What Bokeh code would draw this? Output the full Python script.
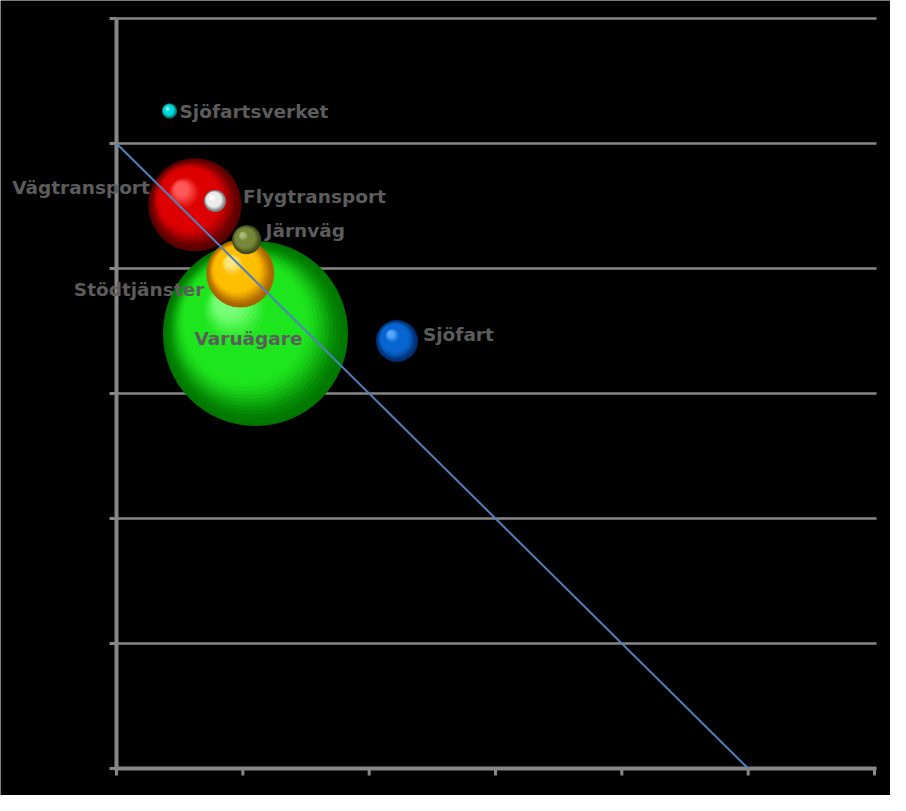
import numpy as np
from bokeh.plotting import figure
from bokeh.models import ColumnDataSource, Range1d, LabelSet
from bokeh.core.properties import value
from bokeh.embed import file_html
from bokeh.resources import INLINE

# ---------------- data ----------------
names = ["Varuägare", "Vägtransport", "Stödtjänster", "Järnväg",
         "Flygtransport", "Sjöfartsverket", "Sjöfart"]
x_vals = [1.10, 0.62, 0.98, 1.03, 0.78, 0.42, 2.22]
y_vals = [3.48, 4.51, 3.96, 4.23, 4.54, 5.26, 3.42]
bubble_sizes = [100, 25.3, 13.5, 2.46, 1.41, 0.66, 5.15]

line_x = [0, 5]
line_y = [5, 0]

axis_ticks = [0, 1, 2, 3, 4, 5, 6]

# ---------------- style ----------------
W, H = 890, 795
X0_PX, X6_PX = 116, 874      # screen x of x=0 and x=6
Y0_PX, Y6_PX = 768, 18       # screen y of y=0 and y=6
PX_X = (X6_PX - X0_PX) / 6.0
PX_Y = (Y0_PX - Y6_PX) / 6.0
X_START, X_END = -X0_PX / PX_X, (W - X0_PX) / PX_X
Y_START, Y_END = -(H - Y0_PX) / PX_Y, Y0_PX / PX_Y
AX_END = 6 + 2 / PX_X
TICK_X = 7 / PX_X
TICK_Y = 7 / PX_Y
MAX_R = 92.5  # screen radius of largest bubble

shades = {  # dark, base, light
    "Varuägare": ("#007800", "#1ee61e", "#78ff78"),
    "Vägtransport": ("#5a0000", "#dc0000", "#ff5a5a"),
    "Stödtjänster": ("#a86400", "#ffbe00", "#ffe680"),
    "Järnväg": ("#3e4a1c", "#77883a", "#aabb7c"),
    "Flygtransport": ("#7a7a7a", "#ececec", "#ffffff"),
    "Sjöfartsverket": ("#007070", "#00d8d8", "#90ffff"),
    "Sjöfart": ("#002e70", "#0866d0", "#58a8ff"),
}
# label placement: align, x offset px, y offset px (screen, up positive)
label_place = {
    "Varuägare": ("center", -7, -5),
    "Vägtransport": ("right", -45, 17),
    "Stödtjänster": ("right", -36, -16),
    "Järnväg": ("left", 19, 9),
    "Flygtransport": ("left", 28, 5),
    "Sjöfartsverket": ("left", 10, 0),
    "Sjöfart": ("left", 26, 7),
}
TEXT_COLOR = "#5c5c5c"
GRAY = "#878787"


def hex2rgb(h):
    h = h.lstrip("#")
    return np.array([int(h[i:i + 2], 16) for i in (0, 2, 4)], dtype=float)


def rgb2hex(c):
    c = np.clip(np.round(c), 0, 255).astype(int)
    return "#%02x%02x%02x" % tuple(c)


def shade(t, dark, base, light):
    d, b, l = hex2rgb(dark), hex2rgb(base), hex2rgb(light)
    if t < 0.4:
        s = t / 0.4
        s = s * s * (3 - 2 * s)
        return rgb2hex(d + (b - d) * s)
    if t < 0.7:
        return rgb2hex(b)
    s = (t - 0.7) / 0.3
    s = s * s * (3 - 2 * s)
    return rgb2hex(b + (l - b) * s)


p = figure(width=W, height=H, output_backend="svg", toolbar_location=None,
           x_range=Range1d(X_START, X_END), y_range=Range1d(Y_START, Y_END),
           x_axis_location=None, y_axis_location=None,
           min_border_left=0, min_border_top=0,
           min_border_right=0, min_border_bottom=0)
p.background_fill_color = "black"
p.border_fill_color = "black"
p.outline_line_color = None
p.grid.visible = False

n = len(axis_ticks)
grid_y = axis_ticks[1:]
# horizontal gridlines starting at the value axis
p.segment(x0=[0] * len(grid_y), y0=grid_y, x1=[AX_END] * len(grid_y), y1=grid_y,
          line_color=GRAY, line_width=2.5)
# value axis (left) and its tick marks
p.segment(x0=[0], y0=[0], x1=[0], y1=[axis_ticks[-1]], line_color=GRAY, line_width=4)
p.segment(x0=[0] * n, y0=axis_ticks, x1=[-TICK_X] * n, y1=axis_ticks,
          line_color=GRAY, line_width=3)
# category axis (bottom) and its tick marks
p.segment(x0=[-0.016], y0=[0], x1=[AX_END], y1=[0], line_color=GRAY, line_width=4)
p.segment(x0=axis_ticks, y0=[0] * n, x1=axis_ticks, y1=[-TICK_Y] * n,
          line_color=GRAY, line_width=3)

# bubbles as shaded spheres
N = 30
for name, xv, yv, sz in zip(names, x_vals, y_vals, bubble_sizes):
    R = MAX_R * np.sqrt(sz / 100.0)
    dark, base, light = shades[name]
    xs, ys, rs, cs = [], [], [], []
    for i in range(N):
        t = i / (N - 1)
        rs.append(R * (1 - 0.88 * t))
        xs.append(xv - 0.3 * R * t / PX_X)
        ys.append(yv + 0.34 * R * t / PX_Y)
        cs.append(shade(t, dark, base, light))
    src = ColumnDataSource(dict(x=xs, y=ys, r=rs, c=cs))
    p.circle(x="x", y="y", radius="r", radius_units="screen",
             fill_color="c", line_color=None, source=src)

# diagonal line
p.line(line_x, line_y, line_color="#4f81bd", line_width=2)

# labels
for align in ("left", "right", "center"):
    lx, ly, lt, xo, yo = [], [], [], [], []
    for name, xv, yv in zip(names, x_vals, y_vals):
        a, dx, dy = label_place[name]
        if a != align:
            continue
        lx.append(xv); ly.append(yv); lt.append(name); xo.append(dx); yo.append(dy)
    if not lx:
        continue
    src = ColumnDataSource(dict(x=lx, y=ly, t=lt, xo=xo, yo=yo))
    ls = LabelSet(x="x", y="y", text="t", x_offset="xo", y_offset="yo", source=src,
                  text_font=value("DejaVu Sans"), text_font_style="bold",
                  text_font_size="18.5px", text_color=TEXT_COLOR,
                  text_align=align, text_baseline="middle")
    p.add_layout(ls)

open("out.html", "w").write(file_html(p, INLINE))
